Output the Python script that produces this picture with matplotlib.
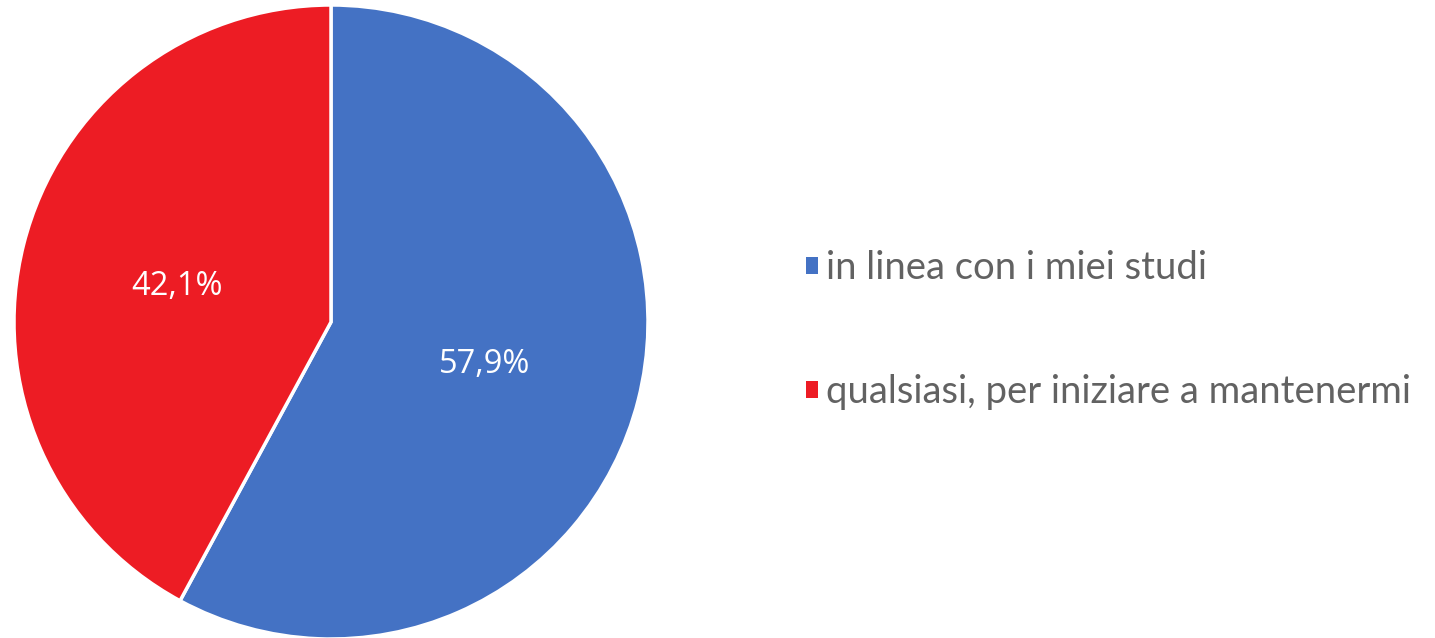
import matplotlib.pyplot as plt
from matplotlib.patches import Patch

labels = ["in linea con i miei studi", "qualsiasi, per iniziare a mantenermi"]
values = [57.9, 42.1]
colors = ["#4472C4", "#ED1C24"]

fig = plt.figure(figsize=(14.35, 6.38), dpi=100)
# pie sits in the left part of the figure
ax = fig.add_axes([14 / 1435, -1 / 638, 634 / 1435, 634 / 638])

wedges, texts, autotexts = ax.pie(
    values, colors=colors, startangle=90, counterclock=False,
    autopct=lambda p: "{:.1f}%".format(p).replace(".", ","),
    pctdistance=0.5, radius=1,
    wedgeprops=dict(edgecolor="white", linewidth=2.5),
    textprops=dict(color="white", fontsize=23.5, family="Open Sans"))
for t in autotexts:
    t.set_y(t.get_position()[1] - 0.012)
ax.set_xlim(-1, 1)
ax.set_ylim(-1, 1)
ax.set_aspect("equal")

handles = [Patch(facecolor=c, edgecolor="none") for c in colors]
fig.legend(handles, labels, loc="center left", bbox_to_anchor=(806 / 1435, 1 - 330 / 638),
           frameon=False, labelcolor="#626262",
           prop=dict(family="Lato", size=27.5),
           handlelength=0.32, handleheight=0.32, handletextpad=0.2,
           labelspacing=2.3, borderpad=0, borderaxespad=0)

fig.savefig("out.png", dpi=100)
